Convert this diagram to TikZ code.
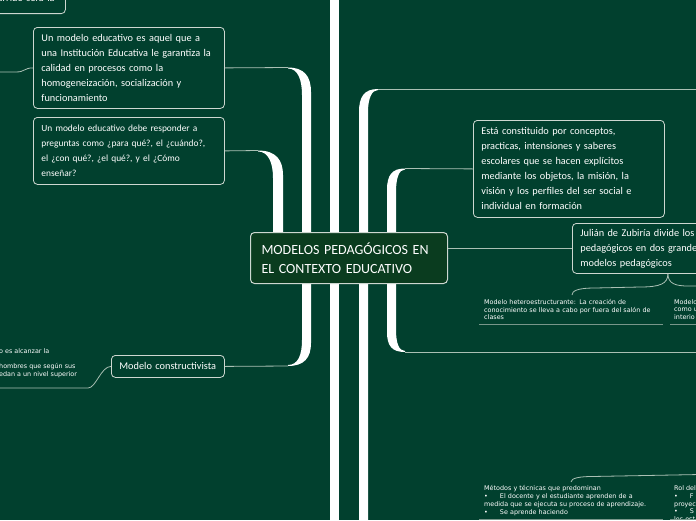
\documentclass[tikz,border=0pt]{standalone}
\usepackage{fontspec}
\setmainfont{Carlito}
\newfontfamily\notefont{DejaVu Sans}
\usetikzlibrary{positioning}
\definecolor{boardgreen}{RGB}{1,64,46}
\definecolor{rootgreen}{RGB}{10,60,31}
\definecolor{edgegray}{RGB}{205,215,208}
\definecolor{linegray}{RGB}{170,192,180}
\definecolor{rulegray}{RGB}{120,150,138}
\tikzset{
    whitebar/.style={fill=white},
    thinline/.style={line width=0.8pt, linegray},
    noteline/.style={line width=0.9pt, rulegray},
    topicbox/.style={
        draw=edgegray, line width=0.8pt, fill=boardgreen,
        rounded corners=4pt, anchor=north west, align=left, text=white,
        font=\fontsize{10.3}{15}\selectfont,
        inner xsep=8pt, inner ysep=0pt, text width=175pt
    },
    rootbox/.style={
        draw=edgegray, line width=1pt, fill=rootgreen,
        rounded corners=4pt, anchor=north west, align=left, text=white,
        font=\fontsize{14}{19.5}\selectfont,
        inner xsep=11pt, inner ysep=0pt, text width=175pt
    },
    notetext/.style={
        anchor=north west, align=left, text=white, inner sep=0pt,
        font=\notefont\fontsize{6.4}{7.8}\selectfont
    }
}

\begin{document}
\begin{tikzpicture}[x=1pt,y=-1pt]
    \useasboundingbox (0,0) rectangle (696,520);
    \clip (0,0) rectangle (696,520);
    \fill[boardgreen] (0,0) rectangle (696,520);
    \path
    (258,150.5) coordinate (a1) (288,67.5) coordinate (b1) (288,366) coordinate (b2)
    (378,89) coordinate (d1) (405,168.5) coordinate (e1) (405,352) coordinate (e2)
    (700,89) coordinate (d2) (700,352) coordinate (e3)
    (-5,72) coordinate (w1) (-5,388) coordinate (w2);

    % ramas blancas
    \fill[whitebar] (330,0) rectangle (339,520);
    \fill[whitebar] (a1) .. controls (276,150.5) and (283,160) .. (283,175) -- (283,240)
        -- (273,240) -- (273,178) .. controls (273,162) and (268,151.5) .. (258,151.5) -- cycle;
    \fill[whitebar] (b1) .. controls (304,67.5) and (311,76) .. (311,92) -- (311,240)
        -- (302,240) -- (302,95) .. controls (302,80) and (298,68.5) .. (288,68.5) -- cycle;
    \fill[whitebar] (311,270) -- (311,343) .. controls (311,358) and (304,366) .. (b2)
        -- (288,365) .. controls (298,365) and (302,355) .. (302,340) -- (302,270) -- cycle;
    \fill[whitebar] (d1) .. controls (364,89) and (359,97) .. (359,112) -- (359,520)
        -- (368,520) -- (368,112) .. controls (368,98) and (372,90) .. (378,90) -- cycle;
    \fill[whitebar] (e1) .. controls (392,168.5) and (387,175) .. (387,190) -- (387,240)
        -- (396,240) -- (396,192) .. controls (396,178) and (399,169.5) .. (405,169.5) -- cycle;
    \fill[whitebar] (387,270) -- (387,332) .. controls (387,346) and (392,352) .. (e2)
        -- (405,351) .. controls (399,351) and (396,343) .. (396,330) -- (396,270) -- cycle;

    \node[topicbox, text width=70pt, text height=30pt, text depth=12.5pt, anchor=south west]
        (prevbox) at (-21,14) {ocurrido será la};
    \node[topicbox, minimum height=81pt] (aquel) at (33,27)
        {Un modelo educativo es aquel que a\\una Institución Educativa le garantiza la\\calidad en procesos como la\\homogeneización, socialización y\\funcionamiento};
    \node[topicbox, minimum height=67pt, font=\fontsize{9.4}{15}\selectfont] (preguntas) at (33,117)
        {Un modelo educativo debe responder a\\preguntas como ¿para qué?, el ¿cuándo?,\\el ¿con qué?, ¿el qué?, y el ¿Cómo\\enseñar?};
    \node[topicbox, text width=97pt, minimum height=22pt] (constructivista) at (111,355)
        {Modelo constructivista};
    \node[rootbox, minimum height=51pt] (root) at (250,232)
        {MODELOS PEDAGÓGICOS EN\\EL CONTEXTO EDUCATIVO};
    \node[topicbox, minimum height=97pt] (constituido) at (473,120)
        {Está constituido por conceptos,\\practicas, intensiones y saberes\\escolares que se hacen explícitos\\mediante los objetos, la misión, la\\visión y los perfiles del ser social e\\individual en formación};
    \node[topicbox, minimum height=50pt] (zubiria) at (572,223)
        {Julián de Zubiría divide los\\pedagógicos en dos grandes\\modelos pedagógicos};

    \node[notetext] (alcanzar) at (-1,348)
        {o es alcanzar la\\[8pt]hombres que según sus\\edan a un nivel superior};
    \node[notetext, text width=184pt] (hetero) at (484,299)
        {Modelo heteroestructurante: La creación de\\conocimiento se lleva a cabo por fuera del salón de\\clases};
    \node[notetext] (autoestr) at (674,299) {Modelo\\como u\\interio};
    \node[notetext, text width=184pt] (metodos) at (484,485.5)
        {Métodos y técnicas que predominan\\•\hspace{12pt}El docente y el estudiante aprenden de a\\medida que se ejecuta su proceso de aprendizaje.\\•\hspace{12pt}Se aprende haciendo};
    \node[notetext] (rol) at (674,485.5) {Rol del\\•\hspace{12pt}F\\proyec\\•\hspace{12pt}S\\los est};

    \draw[thinline] (aquel.east) -- (b1);
    \draw[thinline] (preguntas.east) -- (a1);
    \draw[thinline] (constructivista.east) -- (b2);
    \draw[thinline] (d1) -- (d2);
    \draw[thinline] (e1) -- (constituido.west);
    \draw[thinline] (e2) -- (e3);
    \draw[thinline] (root.east |- zubiria.west) -- (zubiria.west);
    \draw[thinline] (aquel.west) .. controls +(-9,0) and +(9,0) .. (16,72) -- (w1);
    \draw[thinline] (constructivista.west) .. controls +(-10,0) and +(8,0) .. (88,388) -- (w2);
    \draw[thinline] (zubiria.south) .. controls +(0,10) and +(20,0) .. (640,287)
        -- (595,288) .. controls +(-18,0) and +(0,-4) .. (572,295);
    \draw[thinline] (zubiria.south) .. controls +(0,10) and +(-12,0) .. (688,286) -- (700,286);
    \draw[thinline] (571,482) .. controls +(0,-4) and +(-12,0) .. (592,476.5) -- (700,474.5);
    \draw[noteline] (479,324) -- (663,324) (670,324) -- (700,324);
    \draw[noteline] (479,519) -- (663,519) (670,519) -- (700,519);
\end{tikzpicture}
\end{document}
